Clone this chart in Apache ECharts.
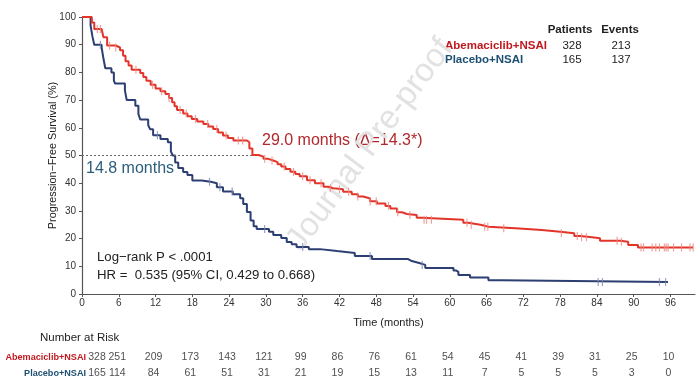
<!DOCTYPE html>
<html>
<head>
<meta charset="utf-8">
<script src="https://cdn.jsdelivr.net/npm/echarts@6/dist/echarts.min.js"></script>
<style>
html,body{margin:0;padding:0;background:#fff;}
#chart{width:697px;height:382px;}
</style>
</head>
<body>
<div id="chart"></div>
<script>
// ---- Data ----
const riskMonths = [0, 6, 12, 18, 24, 30, 36, 42, 48, 54, 60, 66, 72, 78, 84, 90, 96];
const riskAbema = [328, 251, 209, 173, 143, 121, 99, 86, 76, 61, 54, 45, 41, 39, 31, 25, 10];
const riskPlacebo = [165, 114, 84, 61, 51, 31, 21, 19, 15, 13, 11, 7, 5, 5, 5, 3, 0];
const groupNames = ['Abemaciclib+NSAI', 'Placebo+NSAI'];
const patients = [328, 165];
const events = [213, 137];

// Kaplan-Meier step points: time (months) and survival (%) after each drop
const abemaT = [0, 1.6, 2.0, 3.2, 3.5, 4.1, 5.5, 6.2, 6.7, 7.1, 7.6, 8.1, 9.5, 10.0, 10.5, 11.2, 12.0, 12.8, 13.6, 14.2, 14.7, 15.1, 15.5, 16.5, 17.2, 17.9, 18.8, 19.8, 20.6, 21.4, 22.2, 23.0, 23.8, 24.7, 26.9, 27.3, 27.8, 28.8, 29.6, 30.4, 31.2, 31.9, 32.5, 33.2, 34.0, 34.8, 35.5, 36.7, 38.0, 39.4, 40.2, 41.0, 42.6, 44.0, 45.0, 45.9, 47.0, 48.1, 49.5, 50.3, 51.4, 52.2, 53.0, 54.6, 55.4, 62.2, 63.0, 65.0, 66.3, 70.7, 75.0, 78.0, 80.3, 81.3, 83.2, 84.5, 87.8, 89.1, 90.7, 99.7];
const abemaS = [100, 98, 95.7, 95, 92.7, 89.7, 89, 88, 86, 84, 82.5, 81, 79.8, 78.3, 77, 75.5, 74.2, 73.2, 72.2, 70.8, 69.2, 67.8, 66.4, 65.2, 64.2, 63.2, 62.3, 61.4, 60.5, 59.6, 58.3, 57.2, 56.3, 55.4, 54.8, 52.5, 50.2, 49.6, 48.8, 48.2, 47.6, 46.8, 46, 45.1, 44.1, 43.3, 42.5, 41.1, 40, 38.7, 38.2, 37.8, 36.9, 36, 35.2, 34.5, 33.5, 32.7, 31.8, 30.9, 29.5, 28.9, 28.5, 27.5, 26.8, 25.7, 25, 24.3, 23.7, 23.1, 22.5, 21.9, 20.9, 20.5, 20.1, 19.2, 18.9, 17.7, 16.8, 16.8];
const placeboT = [0, 1.4, 1.7, 2.0, 3.2, 3.5, 3.8, 4.8, 5.2, 5.4, 7.0, 7.3, 8.7, 9.2, 9.5, 10.8, 11.1, 11.6, 12.8, 14.0, 14.5, 14.8, 15.2, 15.7, 16.5, 17.2, 18.0, 19.5, 21.0, 22.0, 23.0, 24.6, 25.8, 26.3, 26.9, 27.5, 28.0, 28.5, 30.5, 31.2, 32.5, 33.4, 34.2, 35.0, 37.0, 38.8, 41.6, 44.5, 47.3, 53.2, 53.8, 55.0, 56.0, 60.6, 61.0, 61.4, 63.3, 66.3, 68.5, 95.6];
const placeboS = [100, 97, 93, 90, 89, 85, 81.5, 80, 77, 76, 73.5, 70, 68, 65, 63, 61, 59.5, 57.3, 56, 54.8, 51.5, 50, 47.5, 45.5, 44, 43, 41, 40.5, 40, 38.5, 37, 36, 34.6, 32.5, 29.6, 26.5, 24.5, 23.5, 22.5, 21.3, 20.2, 18.8, 18, 17, 16.2, 15.5, 14.8, 13.7, 12.6, 11.9, 11.2, 10.5, 9.4, 8.5, 8, 6.9, 6, 5, 4.3, 4.3];

// Censoring times (months)
const abemaCensor = [2.5, 3.0, 4.5, 5.5, 8.8, 11.5, 13.0, 14.2, 16.0, 17.0, 18.5, 20.5, 22.0, 23.5, 25.5, 26.2, 29.8, 31.0, 33.0, 34.5, 36.0, 37.2, 39.0, 40.5, 42.0, 43.5, 45.0, 47.0, 48.0, 50.0, 51.5, 53.5, 55.8, 56.2, 57.0, 62.8, 63.5, 65.7, 66.2, 68.8, 78.2, 80.8, 81.5, 82.3, 87.3, 88.0, 91.2, 91.6, 93.0, 93.6, 94.2, 95.0, 95.3, 95.6, 96.5, 97.8, 99.2, 99.7];
const placeboCensor = [3.0, 12.3, 20.8, 22.5, 24.5, 29.8, 36.0, 47.0, 55.5, 84.2, 84.9, 94.2, 95.2];

const medianAbema = 28;
const RED = '#e3342a';
const BLUE = '#2d3e72';
const RED_TXT = '#c0181f';
const BLUE_TXT = '#1d4f72';
const FONT = '"Liberation Sans", Arial, sans-serif';

function survAt(T, S, t) {
  let v = S[0];
  for (let i = 0; i < T.length; i++) { if (T[i] <= t) v = S[i]; else break; }
  return v;
}
const zip = (T, S) => T.map((t, i) => [t, S[i]]);

const chart = echarts.init(document.getElementById('chart'), null, {renderer: 'canvas'});

const riskData = [];
[riskAbema, riskPlacebo].forEach((arr, r) => {
  arr.forEach((v, i) => {
    let off = -2;
    if (i === 0) off = 15;
    if (i === 1) off = -1.5;
    riskData.push({value: [riskMonths[i], groupNames[r], v], label: {offset: [off, 0]}});
  });
});

const option = {
  backgroundColor: '#fff',
  animation: false,
  textStyle: {fontFamily: FONT},
  grid: [
    {left: 82, right: 2, top: 17, bottom: 88, containLabel: false},
    {left: 82, right: 2, top: 349, height: 32}
  ],
  xAxis: [
    {
      type: 'value', gridIndex: 0, min: 0, max: 100, interval: 6,
      name: 'Time (months)', nameLocation: 'middle', nameGap: 23, nameMoveOverlap: false,
      nameTextStyle: {fontSize: 11, color: '#222', fontFamily: FONT},
      axisLine: {lineStyle: {color: '#555', width: 1.2}},
      axisTick: {length: 3, lineStyle: {color: '#555'}, customValues: riskMonths},
      axisLabel: {fontSize: 10, color: '#333', margin: 4, customValues: riskMonths, fontFamily: FONT},
      splitLine: {show: false}
    },
    {type: 'value', gridIndex: 1, min: 0, max: 100, show: false}
  ],
  yAxis: [
    {
      type: 'value', gridIndex: 0, min: 0, max: 100, interval: 10,
      name: 'Progression\u2212Free Survival (%)', nameLocation: 'middle', nameGap: 23, nameRotate: 90,
      nameMoveOverlap: false,
      nameTextStyle: {fontSize: 10.8, color: '#222', fontFamily: FONT},
      axisLine: {show: true, lineStyle: {color: '#555', width: 1.2}},
      axisTick: {show: true, length: 3, lineStyle: {color: '#555'}},
      axisLabel: {fontSize: 10, color: '#333', margin: 6, fontFamily: FONT},
      splitLine: {show: false}
    },
    {
      type: 'category', gridIndex: 1, inverse: true, data: groupNames,
      axisLine: {show: false}, axisTick: {show: false}, splitLine: {show: false},
      axisLabel: {
        margin: -4, fontSize: 9.1, fontWeight: 'bold', fontFamily: FONT,
        formatter: (v, i) => (i === 0 ? '{a|' + v + '}' : '{b|' + v + '}'),
        rich: {
          a: {color: RED_TXT, fontSize: 9.1, fontWeight: 'bold', fontFamily: FONT},
          b: {color: BLUE_TXT, fontSize: 9.1, fontWeight: 'bold', fontFamily: FONT}
        }
      }
    }
  ],
  series: [
    {
      type: 'line', name: groupNames[1], xAxisIndex: 0, yAxisIndex: 0, step: 'end',
      data: zip(placeboT, placeboS), showSymbol: false, z: 3,
      lineStyle: {color: BLUE, width: 2}, itemStyle: {color: BLUE}
    },
    {
      type: 'line', name: groupNames[0], xAxisIndex: 0, yAxisIndex: 0, step: 'end',
      data: zip(abemaT, abemaS), showSymbol: false, z: 4,
      lineStyle: {color: RED, width: 2}, itemStyle: {color: RED},
      markLine: {
        silent: true, symbol: ['none', 'none'],
        lineStyle: {color: '#666', type: [2, 2], width: 1},
        label: {show: false},
        data: [[{coord: [0, 50]}, {coord: [medianAbema, 50]}]]
      }
    },
    {
      type: 'scatter', xAxisIndex: 0, yAxisIndex: 0, z: 3,
      data: placeboCensor.map(t => [t, survAt(placeboT, placeboS, t)]),
      symbol: 'rect', symbolSize: [1.2, 8], itemStyle: {color: '#7d8bb0'}
    },
    {
      type: 'scatter', xAxisIndex: 0, yAxisIndex: 0, z: 4,
      data: abemaCensor.map(t => [t, survAt(abemaT, abemaS, t)]),
      symbol: 'rect', symbolSize: [1.2, 8], itemStyle: {color: '#ee8a82'}
    },
    {
      type: 'scatter', xAxisIndex: 1, yAxisIndex: 1, symbolSize: 0,
      data: riskData,
      label: {
        show: true, position: 'inside', fontSize: 10.5, color: '#222', fontFamily: FONT,
        formatter: p => String(p.value[2])
      }
    }
  ],
  graphic: [
    {type: 'text', x: 307, y: 257, z: 1, rotation: 0.93,
      style: {text: 'Journal Pre-proof', font: '33px ' + FONT, fill: '#e2e2e2', textVerticalAlign: 'bottom'}},
    {type: 'text', x: 262, y: 141, style: {text: '29.0 months (\u0394=14.3*)', font: '16px ' + FONT, fill: '#b3282d', textVerticalAlign: 'middle'}},
    {type: 'text', x: 86, y: 169, style: {text: '14.8 months', font: '16px ' + FONT, fill: '#2c5e7c', textVerticalAlign: 'middle'}},
    {type: 'text', x: 97, y: 257, style: {text: 'Log\u2212rank P < .0001', font: '13.2px ' + FONT, fill: '#222', textVerticalAlign: 'middle'}},
    {type: 'text', x: 97, y: 275, style: {text: 'HR =  0.535 (95% CI, 0.429 to 0.668)', font: '13.2px ' + FONT, fill: '#222', textVerticalAlign: 'middle'}},
    {type: 'text', x: 570, y: 30, style: {text: 'Patients', font: 'bold 11.5px ' + FONT, fill: '#222', textAlign: 'center', textVerticalAlign: 'middle'}},
    {type: 'text', x: 620, y: 30, style: {text: 'Events', font: 'bold 11.5px ' + FONT, fill: '#222', textAlign: 'center', textVerticalAlign: 'middle'}},
    {type: 'text', x: 445, y: 46, style: {text: groupNames[0], font: 'bold 11.5px ' + FONT, fill: RED_TXT, textVerticalAlign: 'middle'}},
    {type: 'text', x: 445, y: 60, style: {text: groupNames[1], font: 'bold 11.5px ' + FONT, fill: BLUE_TXT, textVerticalAlign: 'middle'}},
    {type: 'text', x: 572, y: 46, style: {text: String(patients[0]), font: '11.5px ' + FONT, fill: '#222', textAlign: 'center', textVerticalAlign: 'middle'}},
    {type: 'text', x: 572, y: 60, style: {text: String(patients[1]), font: '11.5px ' + FONT, fill: '#222', textAlign: 'center', textVerticalAlign: 'middle'}},
    {type: 'text', x: 621, y: 46, style: {text: String(events[0]), font: '11.5px ' + FONT, fill: '#222', textAlign: 'center', textVerticalAlign: 'middle'}},
    {type: 'text', x: 621, y: 60, style: {text: String(events[1]), font: '11.5px ' + FONT, fill: '#222', textAlign: 'center', textVerticalAlign: 'middle'}},
    {type: 'text', x: 40, y: 338, style: {text: 'Number at Risk', font: '11.5px ' + FONT, fill: '#222', textVerticalAlign: 'middle'}}
  ]
};
chart.setOption(option);
</script>
</body>
</html>
